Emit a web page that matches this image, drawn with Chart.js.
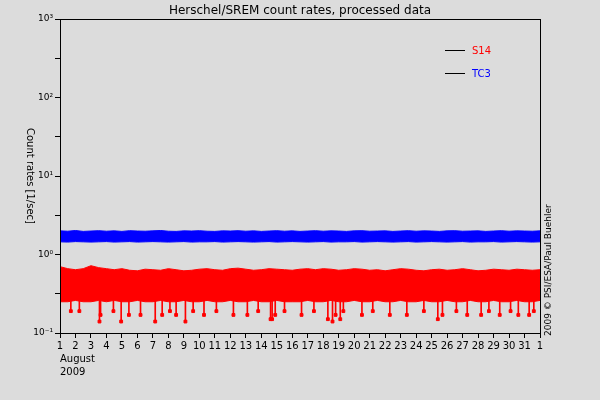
<!DOCTYPE html>
<html><head><meta charset="utf-8">
<script src="https://cdn.jsdelivr.net/npm/chart.js@4"></script>
<style>html,body{margin:0;background:#dcdcdc}</style>
</head><body><canvas id="c" width="600" height="400"></canvas>
<script>
const days = [];
for (let i = 0; i < 63; i++) days.push(1 + i * 0.5);
const s14Max = [0.70,0.66,0.64,0.66,0.72,0.68,0.66,0.64,0.66,0.63,0.62,0.65,0.64,0.63,0.66,0.64,0.62,0.63,0.65,0.66,0.64,0.63,0.66,0.67,0.65,0.63,0.64,0.66,0.65,0.64,0.63,0.65,0.66,0.64,0.66,0.65,0.63,0.64,0.66,0.65,0.63,0.64,0.62,0.64,0.66,0.65,0.63,0.62,0.64,0.65,0.63,0.64,0.66,0.64,0.62,0.63,0.65,0.64,0.63,0.65,0.64,0.63,0.64];
const s14Min = [0.25,0.25,0.26,0.25,0.25,0.26,0.25,0.26,0.25,0.25,0.26,0.25,0.25,0.26,0.25,0.25,0.26,0.25,0.25,0.26,0.25,0.25,0.26,0.25,0.25,0.26,0.25,0.25,0.26,0.25,0.25,0.25,0.26,0.25,0.25,0.26,0.25,0.25,0.26,0.25,0.25,0.26,0.25,0.25,0.26,0.25,0.25,0.26,0.25,0.25,0.26,0.25,0.25,0.26,0.25,0.25,0.26,0.25,0.25,0.26,0.25,0.25,0.26];
const tc3Max = [2.00,1.98,2.02,1.97,1.99,2.01,1.98,2.00,1.97,2.01,1.99,1.98,2.00,2.02,1.98,1.97,2.00,1.99,2.01,1.98,1.97,2.00,1.99,2.01,1.98,2.00,1.97,1.99,2.01,1.98,2.00,1.97,1.99,2.01,1.98,2.00,1.99,1.97,2.00,2.01,1.98,1.99,2.00,1.97,1.99,2.01,1.98,2.00,1.99,1.97,2.00,2.01,1.98,1.99,2.00,1.97,1.99,2.01,1.98,2.00,1.99,1.98,2.00];
const tc3Min = [1.45,1.44,1.46,1.45,1.44,1.45,1.46,1.44,1.45,1.46,1.44,1.45,1.46,1.45,1.44,1.45,1.46,1.44,1.45,1.45,1.46,1.44,1.45,1.46,1.45,1.44,1.45,1.46,1.44,1.45,1.46,1.45,1.44,1.45,1.46,1.44,1.45,1.45,1.46,1.44,1.45,1.46,1.45,1.44,1.45,1.46,1.44,1.45,1.46,1.45,1.44,1.45,1.46,1.44,1.45,1.45,1.46,1.44,1.45,1.46,1.45,1.44,1.45];
const dipDays = [1.7,2.25,3.55,3.62,4.45,4.95,5.45,6.2,7.15,7.6,8.1,8.5,9.1,9.6,10.3,11.1,12.2,13.1,13.8,14.6,14.7,14.9,15.5,16.6,17.4,18.3,18.6,18.8,19.1,19.3,20.5,21.2,22.3,23.4,24.5,25.4,25.7,26.6,27.3,28.2,28.7,29.4,30.1,30.6,31.3,31.6];
const dipVals = [0.19,0.19,0.14,0.17,0.19,0.14,0.17,0.17,0.14,0.17,0.19,0.17,0.14,0.19,0.17,0.19,0.17,0.17,0.19,0.15,0.15,0.17,0.19,0.17,0.19,0.15,0.14,0.17,0.15,0.19,0.17,0.19,0.17,0.17,0.19,0.15,0.17,0.19,0.17,0.17,0.19,0.17,0.19,0.17,0.17,0.19];
const tickDays = [1,2,3,4,5,6,7,8,9,10,11,12,13,14,15,16,17,18,19,20,21,22,23,24,25,26,27,28,29,30,31,32];
const tickLabels = ['1','2','3','4','5','6','7','8','9','10','11','12','13','14','15','16','17','18','19','20','21','22','23','24','25','26','27','28','29','30','31','1'];
const decades = [0.1,1,10,100,1000];
const decadeLabels = ['10⁻¹','10⁰','10¹','10²','10³'];

const pts = (xs, ys) => xs.map((x, i) => ({x, y: ys[i]}));
const F = 'DejaVu Sans';

const extras = {
  id: 'extras',
  afterDraw(ch) {
    const c = ch.ctx, a = ch.chartArea;
    c.save();
    c.fillStyle = '#000'; c.font = '12px ' + F; c.textAlign = 'center';
    c.fillText('Herschel/SREM count rates, processed data', (a.left + a.right) / 2, 14);
    c.strokeStyle = '#000'; c.lineWidth = 1;
    [[50, 'S14', '#ff0000'], [73, 'TC3', '#0000ff']].forEach(([y, t, col]) => {
      c.beginPath(); c.moveTo(445, y + 0.5); c.lineTo(465, y + 0.5); c.stroke();
      c.fillStyle = col; c.textAlign = 'left'; c.font = '10px ' + F;
      c.fillText(t, 472, y + 4);
    });
    c.fillStyle = '#000'; c.font = '10px ' + F; c.textAlign = 'left';
    c.fillText('August', 60, 362); c.fillText('2009', 60, 375);
    c.translate(551, 336); c.rotate(-Math.PI / 2);
    c.font = '9px ' + F; c.textAlign = 'left';
    c.fillText('2009 © PSI/ESA/Paul Buehler', 0, 0);
    c.restore();
    c.save(); c.translate(27, 176); c.rotate(Math.PI / 2);
    c.font = '10px ' + F; c.textAlign = 'center'; c.fillStyle = '#000';
    c.fillText('Count rates [1/sec]', 0, 0); c.restore();
    c.save(); c.strokeStyle = '#000'; c.lineWidth = 1;
    c.strokeRect(a.left + 0.5, a.top + 0.5, a.right - a.left, a.bottom - a.top);
    c.restore();
  }
};

new Chart(document.getElementById('c'), {
  type: 'line',
  data: { datasets: [
    { data: pts(days, tc3Max), borderColor: '#0000ff', backgroundColor: '#0000ff', borderWidth: 1, pointRadius: 0, fill: '+1', tension: 0 },
    { data: pts(days, tc3Min), borderColor: '#0000ff', borderWidth: 1, pointRadius: 0, fill: false },
    { data: pts(days, s14Max), borderColor: '#ff0000', backgroundColor: '#ff0000', borderWidth: 1, pointRadius: 0, fill: '+1' },
    { data: pts(days, s14Min), borderColor: '#ff0000', borderWidth: 1, pointRadius: 0, fill: false },
    { type: 'bar', data: dipDays.map((x, i) => ({x, y: [dipVals[i], 0.27]})), backgroundColor: '#ff0000', barThickness: 1, grouped: false },
    { type: 'scatter', data: pts(dipDays, dipVals), backgroundColor: '#ff0000', borderColor: '#ff0000', pointRadius: 2, pointStyle: 'rect' }
  ]},
  options: {
    responsive: false, animation: false, devicePixelRatio: 1,
    layout: { padding: { top: 19, right: 60, left: 0, bottom: 0 } },
    plugins: { legend: { display: false }, tooltip: { enabled: false } },
    scales: {
      x: { type: 'linear', min: 1, max: 32, offset: false, border: { color: '#000' },
        afterBuildTicks: s => { s.ticks = tickDays.map(v => ({value: v})); },
        ticks: { callback: (v, i) => tickLabels[i], color: '#000', font: { family: F, size: 10 }, maxRotation: 0, autoSkip: false, padding: 2 },
        grid: { drawOnChartArea: false, offset: false, color: '#000', tickLength: 5 },
        afterFit: s => { s.height = 67; } },
      y: { type: 'logarithmic', min: 0.1, max: 1000, border: { color: '#000' },
        afterBuildTicks: s => { const t = []; decades.forEach((d, i) => { t.push({value: d}); if (i < 4) t.push({value: d * Math.sqrt(10)}); }); s.ticks = t; },
        ticks: { callback: v => { const i = decades.findIndex(d => Math.abs(d - v) < d * 1e-6); return i >= 0 ? decadeLabels[i] : ''; }, color: '#000', font: { family: F, size: 9 }, autoSkip: false, padding: 2 },
        grid: { drawOnChartArea: false, color: '#000', tickLength: 5 },
        afterFit: s => { s.width = 60; } }
    }
  },
  plugins: [extras]
});
</script></body></html>
